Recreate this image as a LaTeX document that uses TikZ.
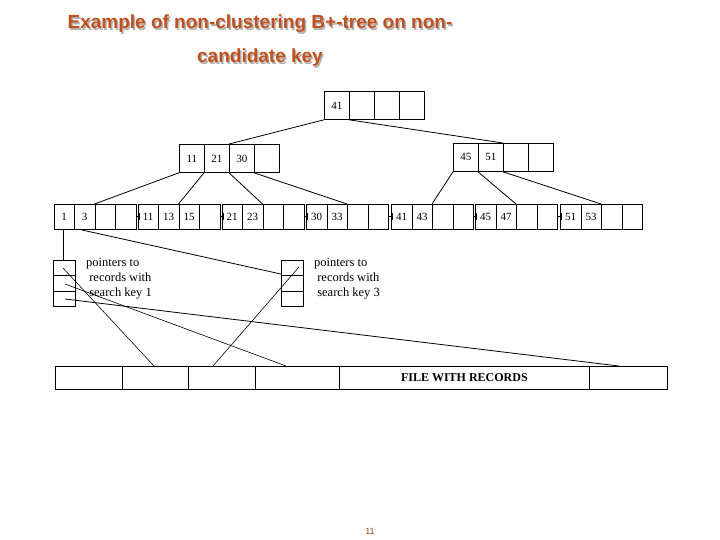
\documentclass[tikz,border=0pt]{standalone}
\usepackage{fontspec}
\setmainfont{Liberation Serif}
\newfontfamily\titlefont{Liberation Sans}
\usetikzlibrary{arrows.meta}
\definecolor{titlec}{RGB}{192,80,30}
\begin{document}
\begin{tikzpicture}[x=1pt,y=-1pt,
  cell/.style={draw,line width=0.8pt,anchor=north west,inner sep=0pt,font=\fontsize{11}{11}\selectfont},
  rcell/.style={cell,minimum width=25pt,minimum height=28pt},
  lcell/.style={cell,minimum width=20.5pt,minimum height=25pt},
  bcell/.style={cell,minimum width=22pt,minimum height=15.3pt},
  conn/.style={line width=0.8pt},
  lbl/.style={anchor=north west,align=left,inner sep=0pt,font=\fontsize{12.5}{15}\selectfont}]
\useasboundingbox (0,0) rectangle (720,540);
\node[font=\titlefont\bfseries\fontsize{19}{34}\selectfont,text=gray!60,align=center] at (261.5,42.5) {Example of non-clustering B+-tree on non-\\candidate key};
\node[font=\titlefont\bfseries\fontsize{19}{34}\selectfont,text=titlec,align=center] (title) at (260,41) {Example of non-clustering B+-tree on non-\\candidate key};
% root
\foreach \i/\t in {0/41,1/,2/,3/} \node[rcell] (r\i) at (324+25*\i,91) {\t};
% internal
\foreach \i/\t in {0/11,1/21,2/30,3/} \node[rcell] (il\i) at (179+25*\i,144) {\t};
\foreach \i/\t in {0/45,1/51,2/,3/} \node[rcell] (ir\i) at (453+25*\i,143) {\t};
% leaves
\foreach \k/\x/\a/\b/\c in {1/53.5/1/3/,2/137.5/11/13/15,3/221.5/21/23/,4/306/30/33/,5/391/41/43/,6/475/45/47/,7/560/51/53/}{
  \node[lcell] (l\k c1) at (\x,204) {\a};
  \node[lcell] (l\k c2) at (\x+20.5,204) {\b};
  \node[lcell] (l\k c3) at (\x+41,204) {\c};
  \node[lcell] (l\k c4) at (\x+61.5,204) {};
}
\foreach \k [evaluate=\k as \n using int(\k+1)] in {1,...,6}
  \draw[conn,-{Bar[width=7pt,line width=0.8pt]}] (l\k c4.east) -- ([xshift=2pt]l\n c1.west);
% tree connectors
\draw[conn] (r0.south west) -- (il2.north west);
\draw[conn] (r1.south west) -- (ir2.north west);
\draw[conn] (il0.south west) -- (l1c3.north west);
\draw[conn] (il1.south west) -- (l2c3.north west);
\draw[conn] (il2.south west) -- (l3c3.north west);
\draw[conn] (il3.south west) -- (l4c3.north west);
\draw[conn] (ir0.south west) -- (l5c3.north west);
\draw[conn] (ir1.south west) -- (l6c3.north west);
\draw[conn] (ir2.south west) -- (l7c3.north west);
% buckets
\foreach \i in {0,1,2} {
  \node[bcell] (b\i) at (53,260+15.3*\i) {};
  \node[bcell] (c\i) at (281,260+15.3*\i) {};
}
\node[lbl] (t1) at (86,258) {pointers to\\\ records with\\\ search key 1};
\node[lbl] (t2) at (314,258) {pointers to\\\ records with\\\ search key 3};
\coordinate (p1) at (63,229);
\coordinate (p3) at (82,230);
\draw[conn] (p1) -- (p1 |- b0.north);
\draw[conn] (p3) -- ([yshift=-6pt]c0.west);
% file
\foreach \i/\a/\b in {1/55/122,2/122/188,3/188/255,4/255/339,5/339/589,6/589/667}
  \node[cell,minimum width=\b pt-\a pt,minimum height=23pt] (f\i) at (\a,366) {};
\node[font=\bfseries\fontsize{12}{12}\selectfont] (ft) at (f5.center) {FILE WITH RECORDS};
\coordinate (q1) at (63,268);
\coordinate (q2) at (65,284);
\coordinate (q3) at (65,299);
\coordinate (q4) at (299,267);
\draw[conn,line width=0.6pt] (q1) -- ([xshift=32pt]f2.north west);
\draw[conn,line width=0.6pt] (q2) -- ([xshift=31pt]f4.north west);
\draw[conn] (q3) -- ([xshift=29pt]f5.north east);
\draw[conn,line width=0.6pt] (q4) -- ([xshift=25pt]f3.north west);
\node[font=\titlefont\fontsize{9}{9}\selectfont,text=titlec!80!black] (pg) at (370,531) {11};
\end{tikzpicture}
\end{document}
